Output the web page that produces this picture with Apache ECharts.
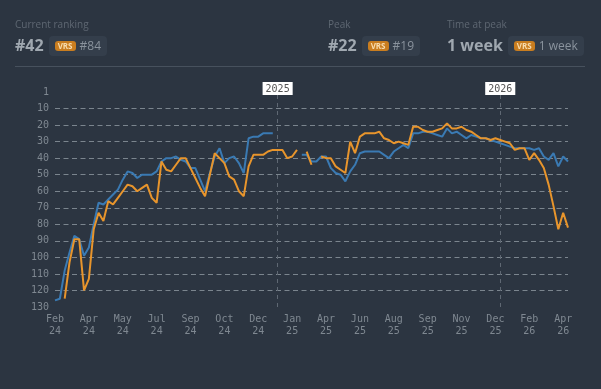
<!DOCTYPE html>
<html><head><meta charset="utf-8">
<script src="https://cdn.jsdelivr.net/npm/echarts@6/dist/echarts.min.js"></script>
<style>
html,body{margin:0;padding:0;background:#2c3541;width:601px;height:389px;overflow:hidden;font-family:'Open Sans',sans-serif;}
#chart{position:absolute;left:0;top:0;width:601px;height:389px;}
.lbl{position:absolute;top:17px;font-size:10px;color:#5e6772;line-height:14px;white-space:nowrap;}
.row{position:absolute;top:35px;height:21px;display:flex;align-items:center;white-space:nowrap;}
.big{font-size:16px;font-weight:700;color:#a0a8b0;line-height:21px;}
.box{margin-left:5px;height:20px;background:#343e4b;border-radius:4px;display:flex;align-items:center;padding:0 6px;}
.pill{background:#c97d1f;color:#f7dcae;font-size:8px;font-weight:700;border-radius:3px;height:10px;line-height:10px;padding:0 3px;}
.reg{font-size:12px;color:#8a939d;margin-left:4px;}
.sep{position:absolute;left:15px;top:66px;width:570px;height:1px;background:#47515d;}
</style></head>
<body>
<div id="chart"></div>
<div class="lbl" style="left:15px">Current ranking</div>
<div class="row" style="left:15px"><span class="big">#42</span><span class="box"><span class="pill">VRS</span><span class="reg">#84</span></span></div>
<div class="lbl" style="left:328px">Peak</div>
<div class="row" style="left:328px"><span class="big">#22</span><span class="box"><span class="pill">VRS</span><span class="reg">#19</span></span></div>
<div class="lbl" style="left:447px">Time at peak</div>
<div class="row" style="left:447px"><span class="big">1 week</span><span class="box"><span class="pill">VRS</span><span class="reg">1 week</span></span></div>
<div class="sep"></div>
<script>
// Tick labels shown every 7th point along the x axis
const xTickLabels = ['Feb\n24','Apr\n24','May\n24','Jul\n24','Sep\n24','Oct\n24','Dec\n24','Jan\n25',
  'Apr\n25','Jun\n25','Aug\n25','Sep\n25','Nov\n25','Dec\n25','Feb\n26','Apr\n26'];
const tickEvery = 7;

// Ranking (blue series)
const rankMain = [
 126,125,108,97,87,89,99,94,80,67,
 68,65,62,59,53,48,49,52,50,50,
 50,48,42,40,40,39,41,42,46,46,
 53,60,49,39,34,43,40,39,43,49,
 28,27,27,25,25,25,null,null,null,null,
 null,38,38,42,42,39,39,46,49,50,
 54,48,44,37,36,36,36,36,38,40,
 36,34,32,34,25,25,24,24,25,26,
 27,22,25,24,26,28,26,27,28,28,
 29,30,31,32,33,34,34,34,34,35,
 34,39,41,37,45,39,42
];

// VRS ranking (orange series)
const rankVRS = [
 null,null,125,103,89,89,120,113,83,73,
 78,66,68,64,60,56,57,60,58,56,
 64,67,42,47,48,44,40,40,46,52,
 58,63,50,37,40,43,51,53,60,63,
 45,38,38,38,36,35,35,35,40,39,
 35,null,36,44,null,39,40,40,45,47,
 49,30,37,27,25,25,25,24,28,29,
 31,30,31,32,21,21,23,24,24,23,
 22,19,22,22,21,23,24,26,28,28,
 29,28,29,30,31,35,34,34,41,37,
 41,46,56,69,83,73,82
];

// Year boundary markers (label, point index)
const yearLabels = ['2025','2026'];
const yearIndex = [46, 92];

const monoFont = 'DejaVu Sans Mono';
const toPairs = arr => arr.map((v,i) => [i, v == null ? '-' : v]);

const chart = echarts.init(document.getElementById('chart'));
chart.setOption({
  backgroundColor: 'transparent',
  animation: false,
  grid: {left: 55, right: 33, top: 92, bottom: 82},
  xAxis: {
    type: 'value', min: 0, max: rankMain.length - 1, interval: tickEvery,
    axisLine: {show: false}, axisTick: {show: false}, splitLine: {show: false},
    axisLabel: {
      color: '#7f8891', fontFamily: monoFont, fontSize: 10, lineHeight: 12, margin: 6,
      formatter: v => (v % tickEvery === 0 && xTickLabels[v / tickEvery]) ? xTickLabels[v / tickEvery] : ''
    }
  },
  yAxis: {
    type: 'value', inverse: true, min: 0, max: 130, interval: 10,
    axisLine: {show: false}, axisTick: {show: false},
    axisLabel: {color: '#7f8891', fontFamily: monoFont, fontSize: 10, margin: 6,
      formatter: v => v === 0 ? '1' : String(v)},
    splitLine: {show: true, showMinLine: false, showMaxLine: false,
      lineStyle: {color: '#8a939c', type: [5, 3.5], width: 1, opacity: 0.85}}
  },
  series: [
    {
      type: 'line', data: toPairs(rankMain), showSymbol: false, connectNulls: false,
      lineStyle: {color: '#3a7ab3', width: 2}, itemStyle: {color: '#3a7ab3'}, z: 2,
      markLine: {
        silent: true, symbol: 'none', animation: false,
        lineStyle: {color: '#5f6873', type: [4, 4], width: 1},
        label: {show: true, position: 'end', distance: -3, backgroundColor: '#ffffff', color: '#555',
          fontFamily: monoFont, fontSize: 10, padding: [2, 3, 1, 3]},
        data: yearIndex.map((idx, k) => [
          {coord: [idx, 130]},
          {coord: [idx, 0], label: {formatter: yearLabels[k]}}
        ])
      }
    },
    {
      type: 'line', data: toPairs(rankVRS), showSymbol: false, connectNulls: false,
      lineStyle: {color: '#e8952c', width: 2}, itemStyle: {color: '#e8952c'}, z: 3
    }
  ]
});
</script>
</body></html>
